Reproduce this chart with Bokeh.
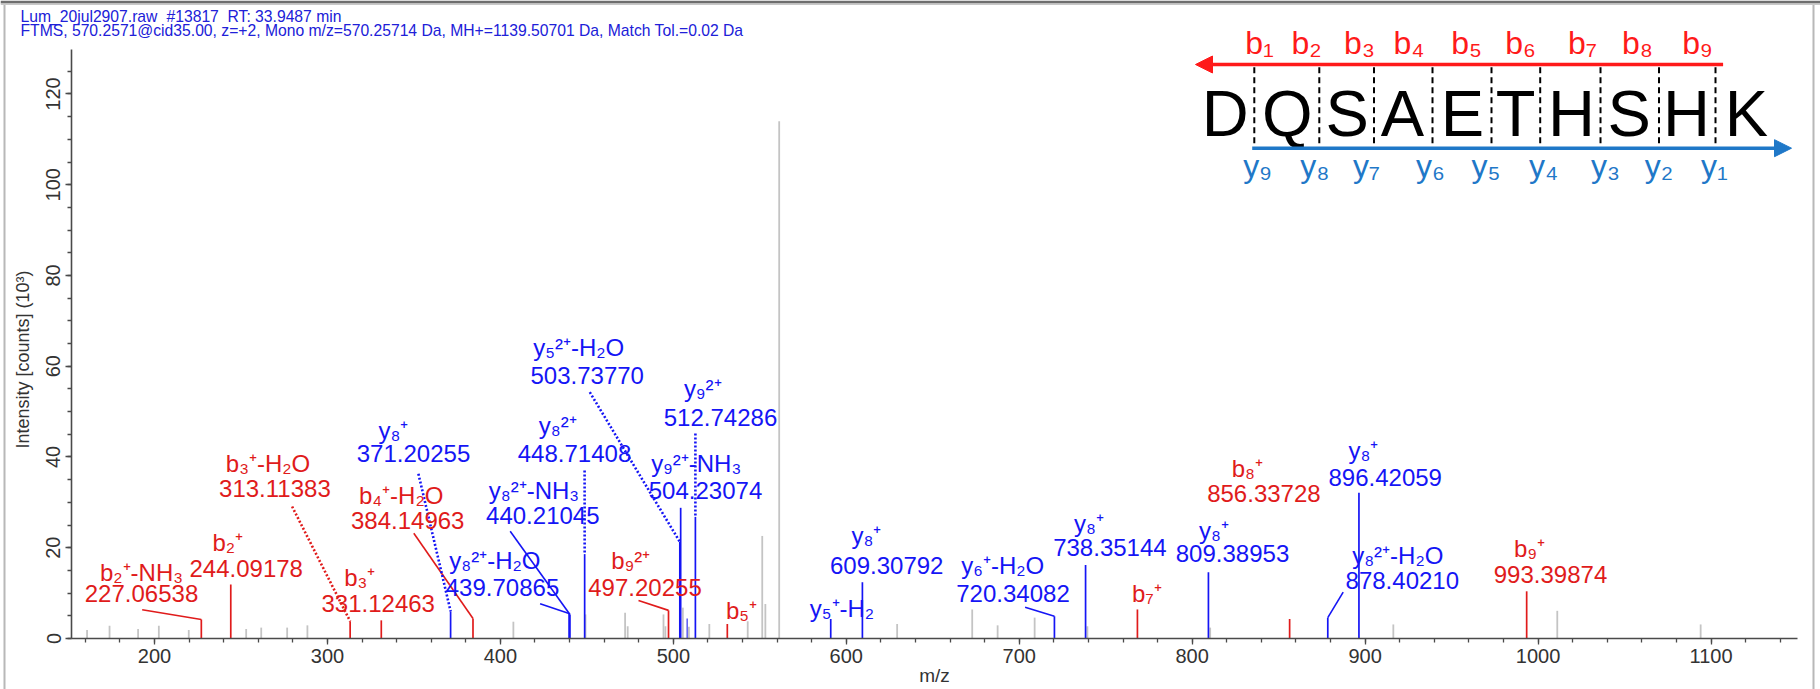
import math
from bokeh.plotting import figure
from bokeh.models import (ColumnDataSource, Range1d, SingleIntervalTicker, Arrow, NormalHead)
from bokeh.core.properties import value
from bokeh.embed import file_html
from bokeh.resources import INLINE

# ---------------------------------------------------------------- data
header_line1 = ["Lum_20jul2907.raw", "#13817", "RT: 33.9487 min"]
header_line2 = ("FTMS, 570.2571@cid35.00, z=+2, Mono m/z=570.25714 Da, "
                "MH+=1139.50701 Da, Match Tol.=0.02 Da")
x_title = "m/z"
y_title = "Intensity [counts] (10³)"

sequence = ["D", "Q", "S", "A", "E", "T", "H", "S", "H", "K"]
b_names = ["b₁", "b₂", "b₃", "b₄", "b₅", "b₆", "b₇", "b₈", "b₉"]
y_names = ["y₉", "y₈", "y₇", "y₆", "y₅", "y₄", "y₃", "y₂", "y₁"]

# axis extent (data units)
mz_min, mz_max = 152, 1150
int_min, int_max = 0, 129.8

# unassigned peaks (grey)
other_mz = [161.0, 174.0, 190.5, 202.5, 219.8, 253.0, 261.7, 276.7, 288.4, 407.5,
            449.2, 472.1, 473.6, 494.3, 495.4, 505.5, 509.0, 520.8, 543.0, 551.4,
            553.2, 561.2, 629.4, 672.8, 687.5, 708.9, 739.4, 810.4, 916.3, 1011.1,
            1094.0]
other_int = [1.9, 2.8, 2.1, 2.8, 1.9, 2.1, 2.4, 2.4, 2.9, 3.7,
             5.3, 5.7, 2.7, 5.3, 2.7, 6.8, 2.6, 3.2, 3.8, 22.6,
             7.6, 114.0, 3.2, 6.4, 2.9, 4.6, 2.7, 2.4, 3.1, 6.1,
             3.1]

# matched y-ion peak without label
extra_y_mz = [508.0]
extra_y_int = [4.4]

# annotated fragment peaks
ann_mz = [227.06538, 244.09178, 313.11383, 331.12463, 371.20255, 384.14963,
          439.70865, 440.21045, 448.71408, 497.20255, 503.73770, 504.23074,
          512.74286, 531.20, 591.00, 609.30792, 720.34082, 738.35144,
          768.33, 809.38953, 856.33728, 878.40210, 896.42059, 993.39874]
ann_int = [4.2, 11.9, 3.8, 4.0, 6.0, 4.4,
           5.5, 5.3, 18.6, 6.2, 21.3, 28.8,
           26.8, 3.2, 4.3, 12.4, 4.9, 16.2,
           6.4, 14.6, 4.3, 4.6, 32.1, 10.4]
ann_ion = ["b₂⁺-NH₃", "b₂⁺", "b₃⁺-H₂O", "b₃⁺", "y₈⁺", "b₄⁺-H₂O",
           "y₈²⁺-H₂O", "y₈²⁺-NH₃", "y₈²⁺", "b₉²⁺", "y₅²⁺-H₂O", "y₉²⁺-NH₃",
           "y₉²⁺", "b₅⁺", "y₅⁺-H₂", "y₈⁺", "y₆⁺-H₂O", "y₈⁺",
           "b₇⁺", "y₈⁺", "b₈⁺", "y₈²⁺-H₂O", "y₈⁺", "b₉⁺"]
ann_series = ["b", "b", "b", "b", "y", "b",
              "y", "y", "y", "b", "y", "y",
              "y", "b", "y", "y", "y", "y",
              "b", "y", "b", "y", "y", "b"]
ann_mz_text = ["227.06538", "244.09178", "313.11383", "331.12463", "371.20255", "384.14963",
               "439.70865", "440.21045", "448.71408", "497.20255", "503.73770", "504.23074",
               "512.74286", "", "", "609.30792", "720.34082", "738.35144",
               "", "809.38953", "856.33728", "878.40210", "896.42059", "993.39874"]

# ---------------------------------------------------------------- layout (pixels)
W, H = 1820, 689
FL, FR, FT, FB = 71, 1797, 49, 638          # where the axes sit on the canvas
PX_X = (FR - FL) / (mz_max - mz_min)         # pixels per m/z unit
PX_Y = (FB - FT) / (int_max - int_min)       # pixels per intensity unit


def dx(px):
    return mz_min + (px - FL) / PX_X


def dy(py):
    return int_min + (FB - py) / PX_Y


# label placement: (name cx, name cy, number cx, number cy, leader start or None, dotted)
label_layout = [
    (141.0, 571.5, 141.0, 592.5, (141.7, 609.3), False),
    (227.3, 542.3, 245.7, 568.3, None, False),
    (267.5, 463.3, 274.4, 488.3, (291.6, 506.0), True),
    (359.3, 576.7, 377.7, 603.3, None, False),
    (393.0, 430.0, 413.0, 453.3, (417.9, 473.3), True),
    (400.7, 495.0, 407.2, 520.0, (413.3, 532.7), False),
    (494.4, 560.0, 502.0, 586.7, (539.6, 603.3), False),
    (533.4, 490.0, 542.3, 515.0, (509.7, 530.7), False),
    (557.3, 425.0, 574.0, 453.3, (584.1, 470.0), True),
    (630.3, 560.0, 644.5, 586.7, (638.0, 600.0), False),
    (578.3, 346.7, 586.7, 375.0, (589.3, 391.7), True),
    (695.7, 463.3, 705.0, 490.0, None, False),
    (702.3, 388.3, 720.0, 416.7, (694.9, 433.0), True),
    (741.0, 610.0, 741.0, 610.0, None, False),
    (841.5, 608.3, 841.5, 608.3, None, False),
    (866.0, 535.0, 886.2, 565.0, None, False),
    (1002.2, 565.0, 1012.5, 592.7, (1024.6, 606.7), False),
    (1088.4, 523.3, 1109.4, 546.7, None, False),
    (1146.4, 593.3, 1146.4, 593.3, None, False),
    (1213.4, 530.0, 1232.0, 553.3, None, False),
    (1246.9, 468.3, 1263.4, 493.3, None, False),
    (1397.3, 555.0, 1401.8, 580.0, (1342.7, 591.7), False),
    (1363.0, 450.0, 1384.7, 477.0, None, False),
    (1529.0, 548.3, 1550.0, 574.0, None, False),
]

# header placement (pixels)
header1_x = [20, 166, 227]
header1_y = 15.5
header2_x, header2_y = 20, 30

# sequence graphic (pixels)
letter_cx = [1224.8, 1286.7, 1346.6, 1402.0, 1462.0, 1515.0, 1571.0, 1628.6, 1686.0, 1746.0]
letter_cy = 113.4
divider_x = [1253.8, 1318.8, 1373.5, 1432.0, 1491.0, 1539.7, 1600.0, 1658.5, 1715.0]
divider_top, divider_bot = 66.7, 146.7
b_label_cx = [1259, 1306, 1359, 1408.5, 1466, 1520, 1582, 1637, 1697]
b_label_cy = 42
y_label_cx = [1257, 1314.5, 1366, 1430, 1485.5, 1543, 1605, 1658.5, 1714]
y_label_cy = 165
red_arrow = (1722.6, 64.0, 1195.0, 64.0)
blue_arrow = (1251.7, 147.7, 1791.0, 147.7)

# ---------------------------------------------------------------- styles
RED = "#e01b1b"
BLUE = "#1515f5"
GREY = "#c4c4c4"
AX = "#4a4a4a"
SEQ_RED = "#ff1a1a"
SEQ_BLUE = "#1f78c8"
HEAD_BLUE = "#2020d8"
FONT = "Liberation Sans"

p = figure(width=W, height=H, x_range=Range1d(dx(0), dx(W)), y_range=Range1d(dy(H), dy(0)),
           output_backend="svg", toolbar_location=None, min_border=0)
p.outline_line_color = None
p.grid.visible = False
p.background_fill_color = "white"
p.border_fill_color = "white"

p.xaxis.ticker = SingleIntervalTicker(interval=100, num_minor_ticks=5)
p.yaxis.ticker = SingleIntervalTicker(interval=20, num_minor_ticks=4)
p.xaxis.fixed_location = int_min
p.yaxis.fixed_location = mz_min
p.xaxis.bounds = (mz_min, mz_max)
p.yaxis.bounds = (int_min, int_max)
for ax in (p.xaxis, p.yaxis):
    ax.axis_line_color = AX
    ax.axis_line_width = 1.6
    ax.major_tick_line_color = AX
    ax.minor_tick_line_color = AX
    ax.major_tick_line_width = 1.3
    ax.minor_tick_line_width = 1.3
    ax.major_tick_in = 0
    ax.major_tick_out = 6
    ax.minor_tick_in = 0
    ax.minor_tick_out = 4
    ax.major_label_text_font = FONT
    ax.major_label_text_font_size = "20px"
    ax.major_label_text_color = "#333333"
p.xaxis.major_label_standoff = 4
p.yaxis.major_label_standoff = 5
p.yaxis.major_label_orientation = "vertical"

# window frame lines
p.quad(left=[dx(0)], right=[dx(W)], top=[dy(0)], bottom=[dy(3)], fill_color="#6e6e6e",
       line_color=None)
p.quad(left=[dx(0)], right=[dx(W)], top=[dy(3)], bottom=[dy(4.5)], fill_color="#c8c8c8",
       line_color=None)
p.quad(left=[dx(3), dx(1812)], right=[dx(5), dx(1814)], top=[dy(4.5)] * 2, bottom=[dy(H)] * 2,
       fill_color="#b8b8b8", line_color=None)

# axis titles
p.text(x=[dx((FL + FR) / 2)], y=[dy(675)], text=[x_title], text_color="#333333",
       text_font=value(FONT), text_font_size="19px", text_align="center",
       text_baseline="middle")
p.text(x=[dx(22)], y=[dy(359)], text=[y_title], angle=math.pi / 2, text_color="#333333",
       text_font=value(FONT), text_font_size="18px", text_align="center",
       text_baseline="middle")

# header
p.text(x=[dx(v) for v in header1_x], y=[dy(header1_y)] * len(header_line1),
       text=header_line1, text_color=HEAD_BLUE, text_font=value(FONT),
       text_font_size="15.7px", text_align="left", text_baseline="middle")
p.text(x=[dx(header2_x)], y=[dy(header2_y)], text=[header_line2],
       text_color=HEAD_BLUE, text_font=value(FONT), text_font_size="15.7px",
       text_align="left", text_baseline="middle")

# grey peaks
p.segment(x0=other_mz, y0=[0] * len(other_mz), x1=other_mz, y1=other_int,
          line_color=GREY, line_width=1.8)
p.segment(x0=extra_y_mz, y0=[0] * len(extra_y_mz), x1=extra_y_mz, y1=extra_y_int,
          line_color="#5a5af0", line_width=1.5)

# annotated peaks
colors = [RED if s == "b" else BLUE for s in ann_series]
peaks = ColumnDataSource(dict(x=ann_mz, y0=[0] * len(ann_mz), y=ann_int, c=colors))
p.segment(x0="x", y0="y0", x1="x", y1="y", line_color="c", line_width=1.7, source=peaks)

sol = dict(x0=[], y0=[], x1=[], y1=[], c=[])
dot = dict(x0=[], y0=[], x1=[], y1=[], c=[])
name_src = dict(x=[], y=[], t=[], c=[])
num_src = dict(x=[], y=[], t=[], c=[])
for i, (ncx, ncy, mcx, mcy, lead, dotted) in enumerate(label_layout):
    name_src["x"].append(dx(ncx)); name_src["y"].append(dy(ncy))
    name_src["t"].append(ann_ion[i]); name_src["c"].append(colors[i])
    if ann_mz_text[i]:
        num_src["x"].append(dx(mcx)); num_src["y"].append(dy(mcy))
        num_src["t"].append(ann_mz_text[i]); num_src["c"].append(colors[i])
    if lead is not None:
        d = dot if dotted else sol
        d["x0"].append(dx(lead[0])); d["y0"].append(dy(lead[1]))
        d["x1"].append(ann_mz[i]); d["y1"].append(ann_int[i]); d["c"].append(colors[i])

p.segment(x0="x0", y0="y0", x1="x1", y1="y1", line_color="c", line_width=1.6,
          source=ColumnDataSource(sol))
p.segment(x0="x0", y0="y0", x1="x1", y1="y1", line_color="c", line_width=2.6,
          line_dash="2 2", source=ColumnDataSource(dot))

p.text(x="x", y="y", text="t", text_color="c", text_font=value(FONT),
       text_font_size="24px", text_align="center", text_baseline="middle",
       source=ColumnDataSource(name_src))
p.text(x="x", y="y", text="t", text_color="c", text_font=value(FONT),
       text_font_size="24px", text_align="center", text_baseline="middle",
       source=ColumnDataSource(num_src))

# sequence graphic
p.text(x=[dx(v) for v in letter_cx], y=[dy(letter_cy)] * len(sequence), text=sequence,
       text_color="black", text_font=value(FONT), text_font_size="65px",
       text_align="center", text_baseline="middle")
p.segment(x0=[dx(v) for v in divider_x], y0=[dy(divider_top)] * len(divider_x),
          x1=[dx(v) for v in divider_x], y1=[dy(divider_bot)] * len(divider_x),
          line_color="black", line_width=2, line_dash="6 4")
p.add_layout(Arrow(x_start=dx(red_arrow[0]), y_start=dy(red_arrow[1]),
                   x_end=dx(red_arrow[2]), y_end=dy(red_arrow[3]),
                   line_color=SEQ_RED, line_width=3.5,
                   end=NormalHead(size=17, fill_color=SEQ_RED, line_color=SEQ_RED)))
p.add_layout(Arrow(x_start=dx(blue_arrow[0]), y_start=dy(blue_arrow[1]),
                   x_end=dx(blue_arrow[2]), y_end=dy(blue_arrow[3]),
                   line_color=SEQ_BLUE, line_width=3.5,
                   end=NormalHead(size=17, fill_color=SEQ_BLUE, line_color=SEQ_BLUE)))
p.text(x=[dx(v) for v in b_label_cx], y=[dy(b_label_cy)] * len(b_names), text=b_names,
       text_color=SEQ_RED, text_font=value(FONT), text_font_size="32px",
       text_align="center", text_baseline="middle")
p.text(x=[dx(v) for v in y_label_cx], y=[dy(y_label_cy)] * len(y_names), text=y_names,
       text_color=SEQ_BLUE, text_font=value(FONT), text_font_size="32px",
       text_align="center", text_baseline="middle")

open("out.html", "w").write(file_html(p, INLINE))
